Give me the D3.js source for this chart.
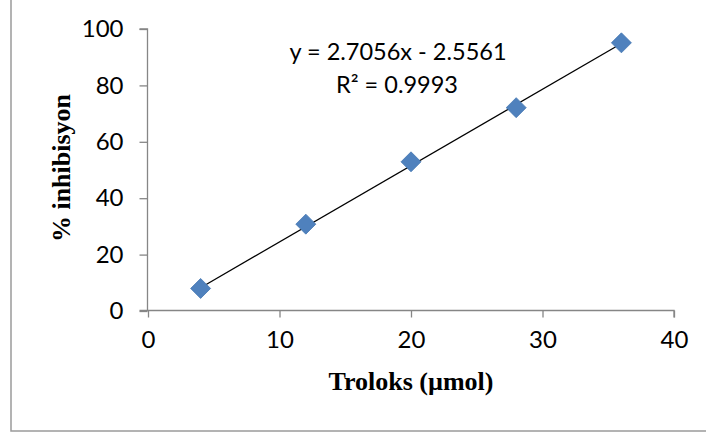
<!DOCTYPE html>
<html>
<head>
<meta charset="utf-8">
<script src="https://cdn.jsdelivr.net/npm/d3@7/dist/d3.min.js"></script>
<style>
  html, body { margin: 0; padding: 0; background: #fff; }
  svg { display: block; }
</style>
</head>
<body>
<svg id="chart" width="706" height="436"></svg>
<script>
// ---- data ----
const xValues = [4, 12, 20, 28, 36];
const yValues = [8.0, 30.8, 52.9, 72.1, 95.1];
const xTicks = [0, 10, 20, 30, 40];
const yTicks = [0, 20, 40, 60, 80, 100];
const trendCoef = [2.7056, -2.5561]; // slope, intercept
const equationLines = ["y = 2.7056x - 2.5561", "R² = 0.9993"];
const xTitle = "Troloks (µmol)";
const yTitle = "% inhibisyon";

const svg = d3.select("#chart");
const W = 706, H = 436;

// outer chart border (top/right cropped)
svg.append("rect")
  .attr("x", 11).attr("y", -5)
  .attr("width", W + 10).attr("height", 436)
  .attr("fill", "none").attr("stroke", "#9a9a9a").attr("stroke-width", 1.5);

const x = d3.scaleLinear().domain([0, 40]).range([148, 674]);
const y = d3.scaleLinear().domain([0, 100]).range([311, 29]);

const tickFont = "Lato, 'Open Sans', sans-serif";
const axisColor = "#868686";

// x axis
const gx = svg.append("g").attr("transform", "translate(0,310.5)")
  .call(d3.axisBottom(x).tickValues(xTicks).tickSize(7).tickPadding(13).tickFormat(d3.format("d")));
// y axis
const gy = svg.append("g").attr("transform", "translate(147.5,0)")
  .call(d3.axisLeft(y).tickValues(yTicks).tickSize(8).tickPadding(16).tickFormat(d3.format("d")));

[gx, gy].forEach(g => {
  g.select(".domain").attr("stroke", axisColor).attr("stroke-width", 1.3);
  g.selectAll(".tick line").attr("stroke", axisColor).attr("stroke-width", 1.3);
  g.selectAll(".tick text")
    .attr("fill", "#000")
    .style("font-family", tickFont)
    .style("font-size", "24px");
});
gy.select(".domain").attr("d", `M-8,${y(100)}H0V${y(0)}`);
gx.select(".domain").attr("d", `M${x(0) - 0.5 - 8},0H${x(40)}V7`);

// trendline
const tx = [d3.min(xValues), d3.max(xValues)];
svg.append("line")
  .attr("x1", x(tx[0])).attr("y1", y(trendCoef[0] * tx[0] + trendCoef[1]))
  .attr("x2", x(tx[1])).attr("y2", y(trendCoef[0] * tx[1] + trendCoef[1]))
  .attr("stroke", "#000").attr("stroke-width", 1.3);

// markers (diamonds)
const pts = xValues.map((v, i) => [v, yValues[i]]);
svg.append("g").selectAll("path")
  .data(pts).join("path")
  .attr("transform", d => `translate(${x(d[0])},${y(d[1])})`)
  .attr("d", "M0,-10L10,0L0,10L-10,0Z")
  .attr("fill", "#4F81BD")
  .attr("stroke", "#4577b3").attr("stroke-width", 0.8);

// equation text
const eq = svg.append("text")
  .attr("text-anchor", "middle")
  .style("font-family", tickFont)
  .style("font-size", "23.5px")
  .attr("fill", "#000");
eq.append("tspan").attr("x", 398).attr("y", 60).text(equationLines[0]);
eq.append("tspan").attr("x", 397).attr("y", 93).text(equationLines[1]);

// axis titles
svg.append("text")
  .attr("x", 411).attr("y", 390)
  .attr("text-anchor", "middle")
  .style("font-family", "'Liberation Serif', 'Times New Roman', serif")
  .style("font-weight", "bold")
  .style("font-size", "26px")
  .text(xTitle);

svg.append("text")
  .attr("transform", "translate(70,168) rotate(-90)")
  .attr("text-anchor", "middle")
  .style("font-family", "'Liberation Serif', 'Times New Roman', serif")
  .style("font-weight", "bold")
  .style("font-size", "26px")
  .text(yTitle);
</script>
</body>
</html>
